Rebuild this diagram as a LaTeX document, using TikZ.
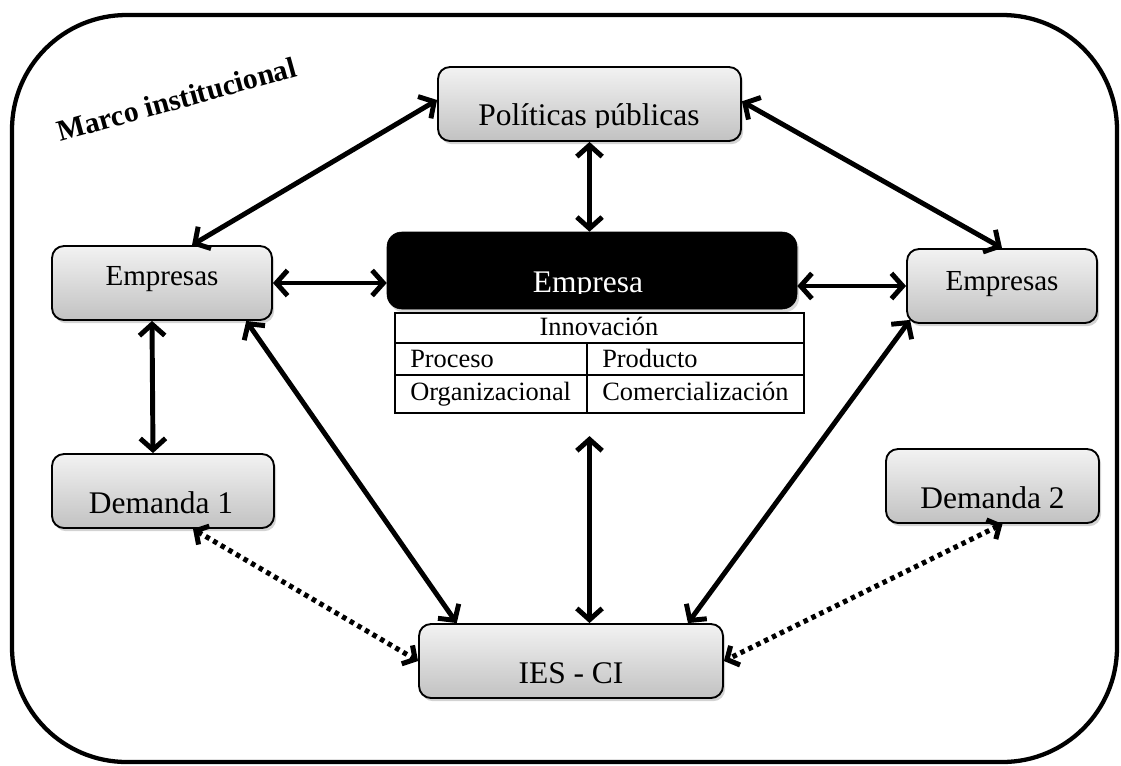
\documentclass[tikz,border=0pt]{standalone}
\usepackage{fontspec}
\setmainfont{Liberation Serif}
\usetikzlibrary{arrows.meta,shadows,calc}

\tikzset{
  box/.style={draw=black, line width=1.4pt, rounded corners=9pt,
    top color=gray!10, bottom color=gray!48, inner sep=0pt,
    minimum height=55.5pt,
    drop shadow={shadow xshift=1.6pt, shadow yshift=-2.4pt, opacity=0.35}},
  darkbox/.style={fill=black, draw=black, rounded corners=11pt, inner sep=0pt,
    drop shadow={shadow xshift=1.6pt, shadow yshift=-2.4pt, opacity=0.3}},
  tablebox/.style={draw=black, fill=white, line width=1.6pt, inner sep=0pt},
  bigtext/.style={font=\fontsize{23.6}{28}\selectfont, inner sep=0pt},
  midtext/.style={font=\fontsize{21.8}{26}\selectfont, inner sep=0pt},
  celltext/.style={font=\fontsize{19.8}{24}\selectfont, inner sep=0pt},
  barb/.tip={Straight Barb[length=8.5pt,width=19pt]},
  link/.style={line width=3.7pt, barb-barb},
  dotlink/.style={line width=3.8pt, dash pattern=on 3.4pt off 3.2pt,
    {Straight Barb[length=7pt,width=16pt]}-{Straight Barb[length=7pt,width=16pt]}},
  frame/.style={line width=3.2pt, rounded corners=86pt}
}

\begin{document}
\begin{tikzpicture}[x=0.75pt,y=-0.75pt]
\useasboundingbox (0,0) rectangle (1121,765);

% institutional frame
\draw[frame] (12,15) rectangle (1117,762);
\node[font=\fontsize{22.2}{26}\selectfont\bfseries, inner sep=0pt,
      anchor=base west, rotate=15.5] (marco) at (60,142) {Marco institucional};

% actor boxes
\node[box, minimum width=227.25pt] (pol) at (589.5,104) {};
\node[box, minimum width=165pt]    (empL) at (162,283) {};
\node[box, minimum width=142.5pt]  (empR) at (1002,286) {};
\node[box, minimum width=166.5pt]  (dem1) at (163,491) {};
\node[box, minimum width=159.75pt] (dem2) at (992.5,486) {};
\node[box, minimum width=228pt]    (ies) at (571,661) {};
\node[darkbox, minimum width=307.5pt, minimum height=57.75pt] (emp) at (592,270.5) {};

% box labels (the two upper labels are cut at the box text area)
\begin{scope}
  \clip (438,67) rectangle (741,127);
  \node[bigtext, anchor=base] (polT) at (589,125) {Políticas públicas};
\end{scope}
\begin{scope}
  \clip (387,232) rectangle (797,293);
  \node[bigtext, anchor=base, text=white] (empT) at (588,292) {Empresa};
\end{scope}
\node[midtext, anchor=base] (empLT) at (162,285) {Empresas};
\node[midtext, anchor=base] (empRT) at (1002,290) {Empresas};
\node[bigtext, anchor=base] (dem1T) at (161,513) {Demanda 1};
\node[bigtext, anchor=base] (dem2T) at (992.5,508) {Demanda 2};
\node[bigtext, anchor=base] (iesT) at (571,683) {IES - CI};

% innovation table
\node[tablebox, minimum width=306.75pt, minimum height=75pt] (tab) at (599.5,363) {};
\draw[line width=1.6pt] (395,343) -- (804,343);
\draw[line width=1.6pt] (395,375) -- (804,375);
\draw[line width=1.6pt] (587,343) -- (587,413);
\node[celltext, anchor=base] (innov) at (599,335) {Innovación};
\node[celltext, anchor=base west] (proc) at (410,367) {Proceso};
\node[celltext, anchor=base west] (prod) at (602,367) {Producto};
\node[celltext, anchor=base west] (org) at (410,400) {Organizacional};
\node[celltext, anchor=base west] (com) at (602,400) {Comercialización};
\coordinate (tabfoot) at ([yshift=-16.5pt]tab.south);

% relations
\draw[link] ([yshift=3pt]pol.west) -- ([xshift=22.5pt]empL.north);
\draw[link] ([yshift=2pt]pol.east) -- (empR.north);
\draw[link] (pol.south) -- (pol.south |- emp.north);
\draw[link] (empL.east) -- (empL.east -| emp.west);
\draw[link] (emp.east |- empR.west) -- (empR.west);
\draw[link] ([xshift=-7.5pt]empL.south) -- ([xshift=-7.5pt]dem1.north);
\draw[link] ([xshift=-20pt]empL.south east) -- ([xshift=29pt]ies.north west);
\draw[link] ([xshift=3pt,yshift=3pt]empR.south west) -- ([xshift=-27pt]ies.north east);
\draw[link] (tabfoot -| pol.south) -- (ies.north -| pol.south);
\draw[dotlink] ([xshift=22.5pt]dem1.south) -- (ies.west);
\draw[dotlink] ([xshift=7.5pt]dem2.south) -- (ies.east);
\end{tikzpicture}
\end{document}
